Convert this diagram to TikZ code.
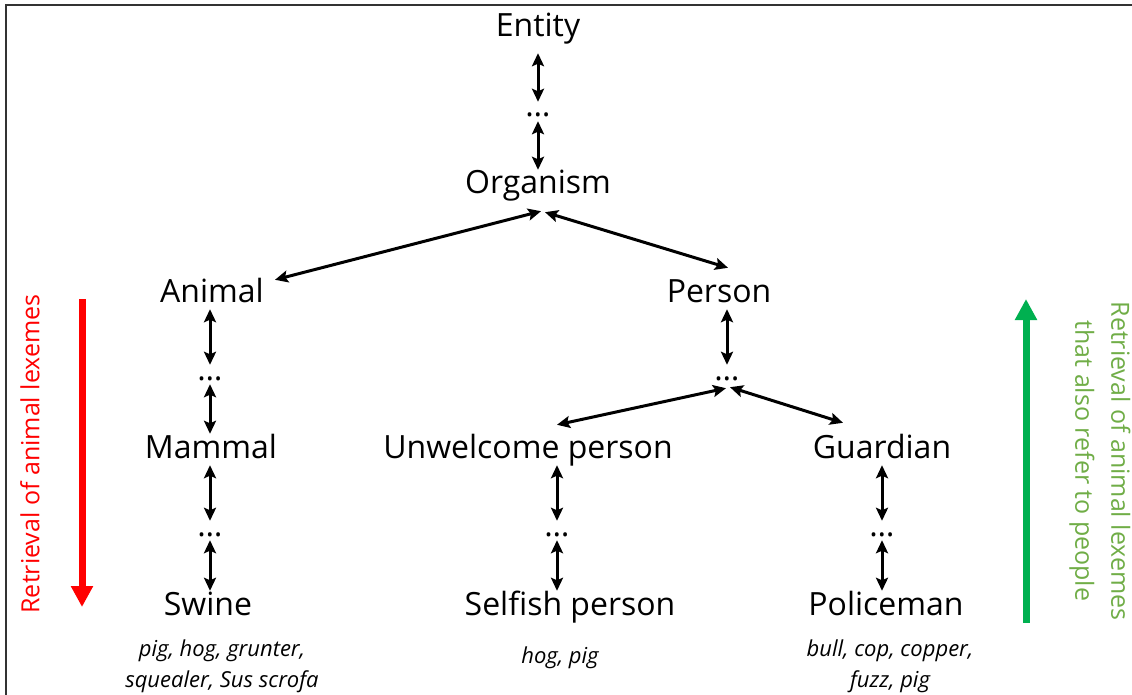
\documentclass[tikz,border=0pt]{standalone}
\usepackage{fontspec}
\setmainfont{Open Sans}
\usetikzlibrary{arrows.meta}

\definecolor{retrieve}{HTML}{FF0000}
\definecolor{backup}{HTML}{00B050}
\definecolor{backtext}{HTML}{70AD47}

\begin{document}
\begin{tikzpicture}[x=1pt, y=-1pt,
    concept/.style={anchor=base, inner sep=2pt, text height=22pt, text depth=5pt, font=\fontsize{32}{38}\selectfont},
    gap/.style={anchor=base, inner sep=1pt, text height=14pt, text depth=3pt, font=\fontsize{32}{38}\selectfont},
    lexemes/.style={anchor=north, inner sep=0pt, align=center, font=\fontsize{22}{31}\selectfont\itshape},
    link/.style={{Stealth[length=13pt,width=12pt,inset=2.5pt]}-{Stealth[length=13pt,width=12pt,inset=2.5pt]}, line width=3pt},
    flow/.style={-{Triangle[length=21pt,width=21pt]}, line width=7pt},
    note/.style={inner sep=0pt, align=center, font=\fontsize{25}{36}\selectfont}
  ]
    \useasboundingbox (0,0) rectangle (1132,695);
    % frame
    \draw[black!80, line width=1.5pt] (6,695) -- (6,5) -- (1132,5);

    % Nodes
    \node[concept] at (538, 37)  (entity)  {Entity};
    \node[gap]     at (538, 117) (edots)   {…};
    \node[concept] at (538, 194) (org)     {Organism};

    \node[concept] at (212, 302) (animal)  {Animal};
    \node[gap]     at (210, 380) (adots)   {…};
    \node[concept] at (211, 458) (mammal)  {Mammal};
    \node[gap]     at (210, 536) (mdots)   {…};
    \node[concept] at (208, 615) (swine)   {Swine};

    \node[concept] at (719, 302) (person)  {Person};
    \node[gap]     at (727, 380) (pdots)   {…};
    \node[concept] at (528, 458) (uperson) {Unwelcome person};
    \node[gap]     at (557, 536) (udots)   {…};
    \node[concept] at (570, 615) (sperson) {Selfish person};
    \node[concept] at (882, 458) (guard)   {Guardian};
    \node[gap]     at (882, 536) (gdots)   {…};
    \node[concept] at (886, 615) (police)  {Policeman};

    \node[lexemes] at (222, 640) (swinelex)  {pig, hog, grunter,\\squealer, Sus scrofa};
    \node[lexemes] at (560, 647) (selflex)   {hog, pig};
    \node[lexemes] at (890, 640) (policelex) {bull, cop, copper,\\fuzz, pig};

    % hierarchy
    \draw[link, shorten <=9pt] (entity) -- (edots);
    \draw[link] (edots) -- (org);
    \draw[link] ([shift={(3,10)}]org.south) -- ([shift={(9,2)}]animal.north east);
    \draw[link] ([shift={(7,11)}]org.south) -- ([shift={(9,-10)}]person.north);

    \draw[link] (animal.south -| adots) -- (adots.north);
    \draw[link] (adots.south) -- (mammal.north -| adots);
    \draw[link] (mammal.south -| mdots) -- (mdots.north);
    \draw[link] (mdots.south) -- (swine.north -| mdots);

    \draw[link] (person.south -| pdots) -- (pdots.north);
    \draw[link] ([shift={(-1,4)}]pdots.south) -- ([shift={(29,-9)}]uperson.north);
    \draw[link] ([shift={(3,3)}]pdots.south) -- ([shift={(-39,-11)}]guard.north);

    \draw[link] (uperson.south -| udots) -- (udots.north);
    \draw[link] (udots.south) -- (sperson.north -| udots);
    \draw[link] (guard.south -| gdots) -- (gdots.north);
    \draw[link] (gdots.south) -- (police.north -| gdots);

    % retrieval directions
    \coordinate (downtop) at (82, 299);
    \coordinate (downend) at (82, 607);
    \draw[flow, retrieve] (downtop) -- (downend);
    \node[note, text=retrieve, rotate=90] at (30, 454) (downnote) {Retrieval of animal lexemes};

    \coordinate (upfoot) at (1026, 623);
    \coordinate (upend)  at (1026, 299);
    \draw[flow, backup] (upfoot) -- (upend);
    \node[note, text=backtext, rotate=-90] at (1100, 461) (upnote) {Retrieval of animal lexemes\\that also refer to people};

  \end{tikzpicture}
\end{document}
